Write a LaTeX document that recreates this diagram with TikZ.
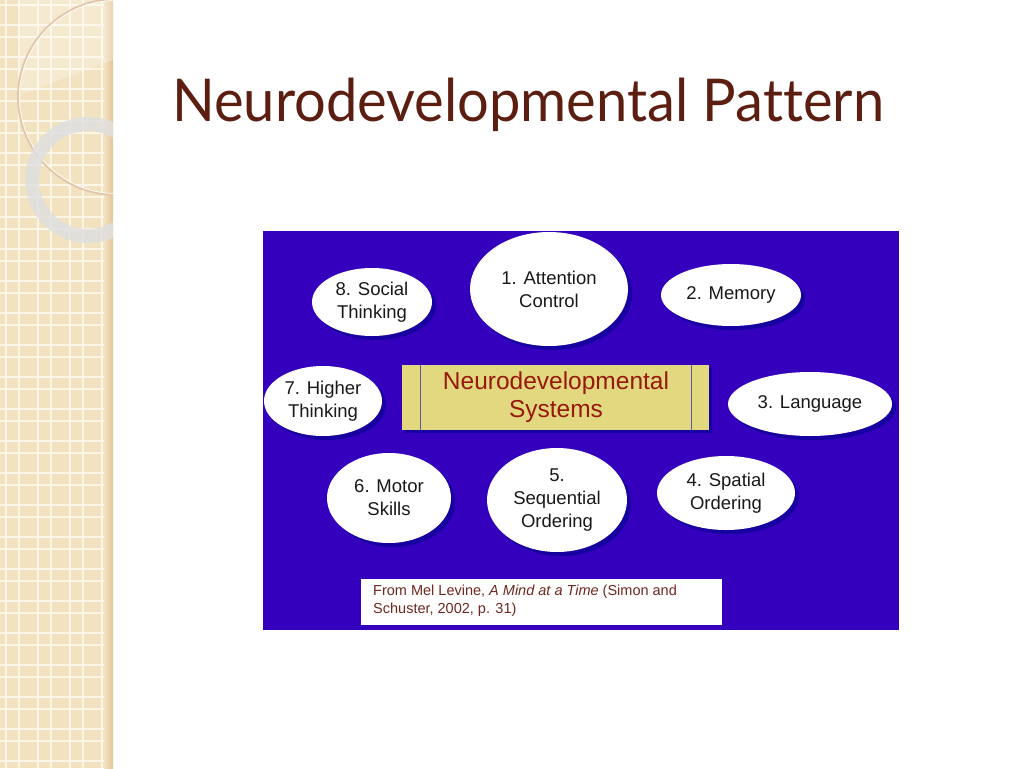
\documentclass[tikz,border=0pt]{standalone}
\usepackage{fontspec}
\setmainfont{Liberation Sans}
\newfontfamily\titlefont[Ligatures=NoCommon]{Lato}
\usetikzlibrary{shapes.geometric}
\definecolor{panel}{RGB}{52,0,190}
\definecolor{shadowblue}{RGB}{22,0,160}
\definecolor{stripe}{RGB}{242,226,192}
\definecolor{gridline}{RGB}{252,246,232}
\definecolor{titlebrown}{RGB}{92,30,16}
\definecolor{boxyellow}{RGB}{226,216,128}
\definecolor{boxtext}{RGB}{150,25,10}
\definecolor{citetext}{RGB}{110,40,30}
\tikzset{
  bubble/.style={ellipse, fill=white, inner sep=0pt, align=center, text=black!90,
    font=\fontsize{18.5}{23}\selectfont},
}
\begin{document}
\begin{tikzpicture}[x=1pt,y=-1pt]
\useasboundingbox (0,0) rectangle (1024,768);
\fill[white] (0,0) rectangle (1024,768);
% left stripe
\fill[stripe] (0,0) rectangle (113,768);
\begin{scope}
\clip (0,0) rectangle (107,768);
\foreach \k in {0,...,24} {
  \draw[gridline, line width=1.2pt] (19+32*\k,0) -- (19+32*\k,768);
  \draw[gridline, line width=1.2pt] (6+32*\k,0) -- (6+32*\k,768);
  \draw[gridline, line width=1.2pt] (0,5+32*\k) -- (113,5+32*\k);
  \draw[gridline, line width=1.2pt] (0,25+32*\k) -- (113,25+32*\k);
}
\end{scope}
\shade[left color=stripe, right color=stripe!70!brown] (104,0) rectangle (113,768);
\begin{scope}
\clip (0,0) rectangle (113,768);
\fill[white, opacity=0.25] (20,0) -- (113,0) -- (113,60) -- (20,95) -- cycle;
\draw[line width=1.8pt, color=brown!45!white] (116,97) circle (98);
\draw[line width=0.6pt, color=white] (116,97) circle (96.5);
\draw[line width=14pt, color=gray!25, opacity=0.85] (88,180) circle (56);
\end{scope}
% title
\node[anchor=base west, inner sep=0pt, text=titlebrown, xscale=0.95, transform shape, font=\titlefont\fontsize{59}{70}\selectfont] (title) at (172,121) {Neurodevelopmental Pattern};
% panel
\fill[panel] (263,231) rectangle (899,630);
% shadows
\foreach \cx/\cy/\rx/\ry in {549/289/79/57, 731/295/70/31, 372/302/60/34, 323/401/59/35, 810/404/82/32, 389/498/62/45, 557/500/70/52, 726/493/69/37} {
  \fill[shadowblue] (\cx+4,\cy+4) ellipse [x radius=\rx, y radius=\ry];
}
% bubbles
\node[bubble, minimum width=158pt, minimum height=114pt] (n1) at (549,289) {1. Attention\\Control};
\node[bubble, minimum width=140pt, minimum height=62pt] (n2) at (731,295) {2. Memory};
\node[bubble, minimum width=120pt, minimum height=68pt] (n8) at (372,302) {8. Social\\Thinking};
\node[bubble, minimum width=118pt, minimum height=70pt] (n7) at (323,401) {7. Higher\\Thinking};
\node[bubble, minimum width=164pt, minimum height=64pt] (n3) at (810,404) {3. Language};
\node[bubble, minimum width=124pt, minimum height=90pt] (n6) at (389,498) {6. Motor\\Skills};
\node[bubble, minimum width=140pt, minimum height=104pt] (n5) at (557,500) {5.\\Sequential\\Ordering};
\node[bubble, minimum width=138pt, minimum height=74pt] (n4) at (726,493) {4. Spatial\\Ordering};
% center box
\fill[shadowblue] (405,368) rectangle (712,433);
\fill[boxyellow] (402,365) rectangle (709,430);
\draw[color=gray!70!blue, line width=0.8pt] (420,365) -- (420,430) (691,365) -- (691,430);
\node[text=boxtext, align=center, font=\fontsize{24.5}{28}\selectfont] (sys) at (556,397) {Neurodevelopmental\\Systems};
% citation
\fill[white] (361,579) rectangle (722,625);
\node[anchor=north west, text=citetext, align=left, inner sep=0pt, font=\fontsize{14.5}{18}\selectfont] (cite) at (373,585) {From Mel Levine, \textit{A Mind at a Time} (Simon and\\Schuster, 2002, p. 31)};
\end{tikzpicture}
\end{document}
